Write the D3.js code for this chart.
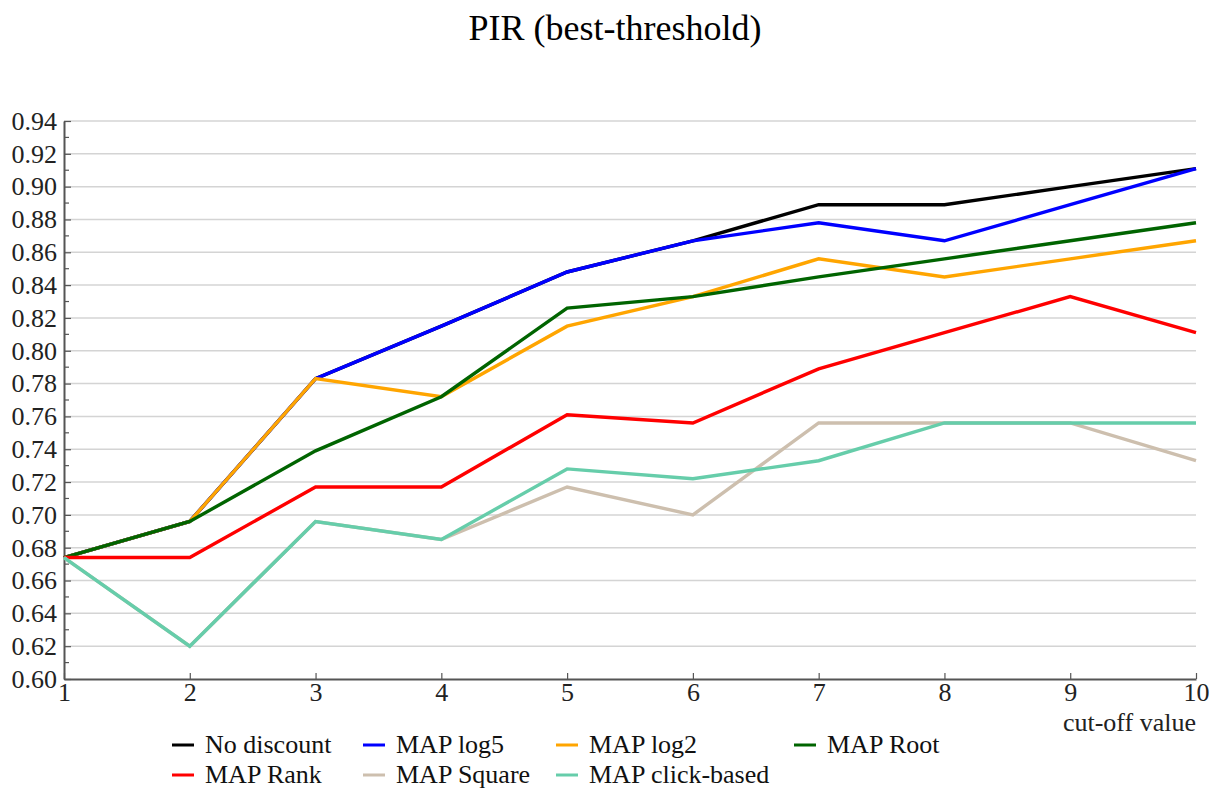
<!DOCTYPE html>
<html>
<head>
<meta charset="utf-8">
<script src="https://cdn.jsdelivr.net/npm/d3@7"></script>
<style>
  html, body { margin: 0; padding: 0; background: #fff; }
  svg { display: block; font-family: "Liberation Serif", "Times New Roman", serif; }
</style>
</head>
<body>
<svg id="chart" width="1215" height="794"></svg>
<script>
// Cut-off values on the x axis
const cutoffs = [1, 2, 3, 4, 5, 6, 7, 8, 9, 10];

// PIR per discount scheme at each cut-off
const noDiscount   = [0.674, 0.696, 0.783, 0.815, 0.848, 0.867, 0.889, 0.889, 0.900, 0.911];
const mapLog5      = [0.674, 0.696, 0.783, 0.815, 0.848, 0.867, 0.878, 0.867, 0.889, 0.911];
const mapLog2      = [0.674, 0.696, 0.783, 0.772, 0.815, 0.833, 0.856, 0.845, 0.856, 0.867];
const mapRoot      = [0.674, 0.696, 0.739, 0.772, 0.826, 0.833, 0.845, 0.856, 0.867, 0.878];
const mapRank      = [0.674, 0.674, 0.717, 0.717, 0.761, 0.756, 0.789, 0.811, 0.833, 0.811];
const mapSquare    = [0.674, 0.620, 0.696, 0.685, 0.717, 0.700, 0.756, 0.756, 0.756, 0.733];
const mapClick     = [0.674, 0.620, 0.696, 0.685, 0.728, 0.722, 0.733, 0.756, 0.756, 0.756];

const seriesNames  = ["No discount", "MAP log5", "MAP log2", "MAP Root", "MAP Rank", "MAP Square", "MAP click-based"];
const seriesValues = [noDiscount, mapLog5, mapLog2, mapRoot, mapRank, mapSquare, mapClick];
const seriesColors = ["#000000", "#0000ff", "#ffa500", "#006400", "#ff0000", "#cdbfae", "#66cdaa"];

const yTicks = d3.range(0.60, 0.9401, 0.02).map(v => +v.toFixed(2));
const yMinorTicks = d3.range(0.61, 0.94, 0.02).map(v => +v.toFixed(2));

const title = "PIR (best-threshold)";
const xTitle = "cut-off value";

// Layout
const svg = d3.select("#chart");
const plot = { left: 64, right: 1196, top: 121, bottom: 679 };

const x = d3.scaleLinear().domain([1, 10]).range([plot.left, plot.right]);
const y = d3.scaleLinear().domain([0.60, 0.94]).range([plot.bottom, plot.top]);

// Title
svg.append("text")
  .attr("x", 615).attr("y", 40)
  .attr("text-anchor", "middle")
  .attr("font-size", 36)
  .attr("fill", "#000")
  .text(title);

// Horizontal gridlines
svg.append("g")
  .selectAll("line")
  .data(yTicks.filter(v => v > 0.60))
  .join("line")
  .attr("x1", plot.left).attr("x2", plot.right)
  .attr("y1", d => y(d)).attr("y2", d => y(d))
  .attr("stroke", "#d4d4d4")
  .attr("stroke-width", 1.5);

// Y axis (ticks pointing into the plot)
const yAxis = svg.append("g")
  .attr("transform", `translate(${plot.left},0)`)
  .call(d3.axisLeft(y).tickValues(yTicks).tickFormat(d3.format(".2f"))
    .tickSizeInner(-7).tickSizeOuter(0).tickPadding(7));
yAxis.selectAll(".tick line").attr("stroke", "#555").attr("stroke-width", 1.2);
yAxis.select(".domain").attr("stroke", "#555").attr("stroke-width", 2);
yAxis.selectAll("text").attr("font-size", 26).attr("fill", "#222")
  .attr("font-family", "Liberation Serif, serif");

// Minor y ticks
svg.append("g")
  .selectAll("line")
  .data(yMinorTicks)
  .join("line")
  .attr("x1", plot.left).attr("x2", plot.left + 5)
  .attr("y1", d => y(d)).attr("y2", d => y(d))
  .attr("stroke", "#555").attr("stroke-width", 1.2);

// X axis (ticks pointing up)
const xAxis = svg.append("g")
  .attr("transform", `translate(0,${plot.bottom})`)
  .call(d3.axisBottom(x).tickValues(cutoffs).tickFormat(d3.format("d"))
    .tickSizeInner(-6).tickSizeOuter(0).tickPadding(4));
xAxis.selectAll(".tick line").attr("stroke", "#555").attr("stroke-width", 1.2);
xAxis.select(".domain").attr("stroke", "#555").attr("stroke-width", 2);
xAxis.selectAll("text").attr("font-size", 26).attr("fill", "#222")
  .attr("font-family", "Liberation Serif, serif");

svg.append("text")
  .attr("x", plot.right).attr("y", 731)
  .attr("text-anchor", "end")
  .attr("font-size", 26)
  .attr("fill", "#222")
  .text(xTitle);

// Series lines
const line = d3.line()
  .x((d, i) => x(cutoffs[i]))
  .y(d => y(d));

svg.append("g")
  .selectAll("path")
  .data(seriesValues)
  .join("path")
  .attr("d", d => line(d))
  .attr("fill", "none")
  .attr("stroke", (d, i) => seriesColors[i])
  .attr("stroke-width", 3.4)
  .attr("stroke-linejoin", "miter");

// Legend: two rows, four columns
const legendCols = [172, 363, 556, 794];
const legendRows = [745, 775];
const legend = svg.append("g");
seriesNames.forEach((name, i) => {
  const cx = legendCols[i % 4];
  const cy = legendRows[Math.floor(i / 4)];
  legend.append("line")
    .attr("x1", cx).attr("x2", cx + 22)
    .attr("y1", cy).attr("y2", cy)
    .attr("stroke", seriesColors[i])
    .attr("stroke-width", 3);
  legend.append("text")
    .attr("x", cx + 33).attr("y", cy + 8)
    .attr("font-size", 26)
    .attr("fill", "#111")
    .text(name);
});
</script>
</body>
</html>
